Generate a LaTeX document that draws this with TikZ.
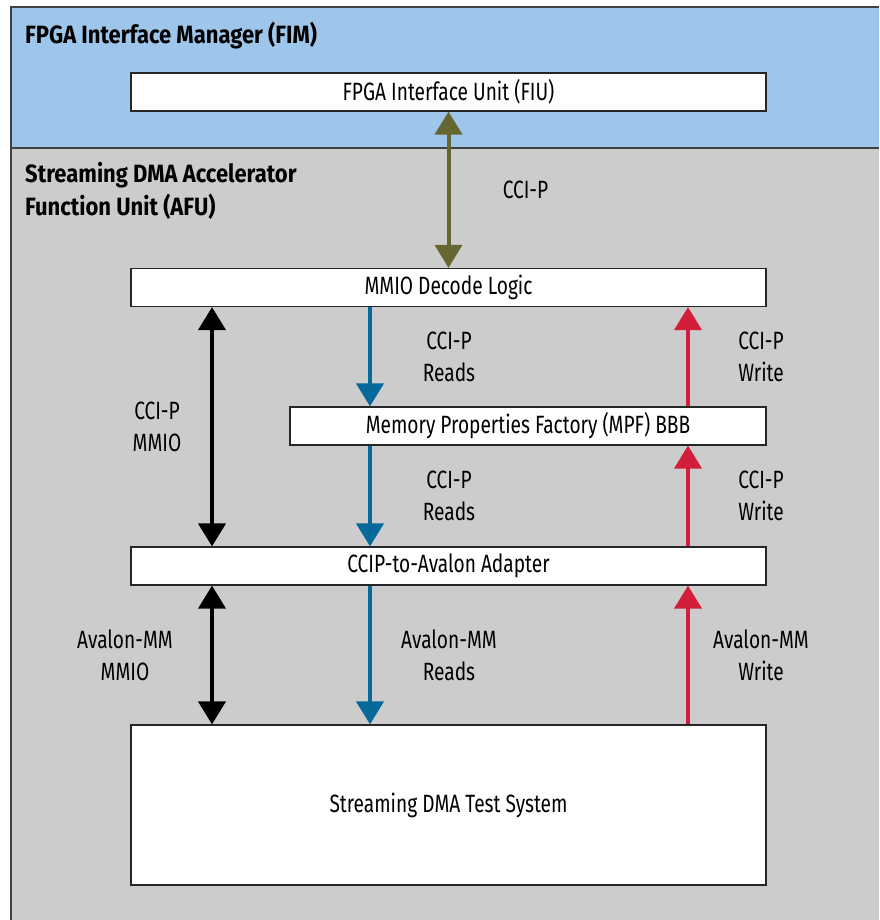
\documentclass[tikz,border=0pt]{standalone}
\usepackage{fontspec}
\setmainfont{Fira Sans}[FakeStretch=0.765]
\newfontfamily\headfont{Fira Sans}[FakeStretch=0.88]
\usetikzlibrary{arrows.meta}
\definecolor{fimblue}{RGB}{157,198,234}
\definecolor{afugray}{RGB}{204,204,204}
\definecolor{cciolive}{RGB}{102,102,51}
\definecolor{readblue}{RGB}{6,105,153}
\definecolor{writered}{RGB}{210,30,58}

\begin{document}
\begin{tikzpicture}[
    x=1pt, y=-1pt,
    font=\fontsize{25}{32}\selectfont,
    block/.style={draw=black!85, line width=1.2pt, fill=white, minimum width=635pt, minimum height=38pt, inner sep=0pt},
    head/.style={anchor=west, align=left, inner sep=0pt, font=\headfont\fontsize{25}{33}\selectfont\bfseries},
    lbl/.style={align=center},
    link/.style={line width=4pt, -{Triangle[width=27pt,length=23pt]}},
    both/.style={line width=4pt, {Triangle[width=27pt,length=23pt]}-{Triangle[width=27pt,length=23pt]}}
]

% Regions
\useasboundingbox (0,0) rectangle (879,920);
\fill[white] (0,0) rectangle (879,920);
\fill[fimblue] (11,7) rectangle (879,148);
\fill[afugray] (11,148) rectangle (879,920);
\draw[black!75, line width=1.2pt] (879,7) -- (11,7) -- (11,920);
\draw[black!75, line width=1.2pt] (11,148) -- (879,148);

\node[head] (fim) at (25,36) {FPGA Interface Manager (FIM)};
\node[head] (afu) at (25,191) {Streaming DMA Accelerator\\Function Unit (AFU)};

% Blocks
\node[block] (fiu) at (448.5,92) {FPGA Interface Unit (FIU)};
\node[block] (mmio) at (448.5,287.5) {MMIO Decode Logic};
\node[block, minimum width=476pt] (mpf) at (528,426) {Memory Properties Factory (MPF) BBB};
\node[block] (adapter) at (448.5,566) {CCIP-to-Avalon Adapter};
\node[block, minimum height=160pt] (dma) at (448.5,805) {Streaming DMA Test System};

% Columns
\coordinate (mmiocol) at (212,0);
\coordinate (rdcol) at (370,0);
\coordinate (wrcol) at (688,0);

% CCI-P
\draw[both, cciolive] (fiu.south) -- node[lbl, xshift=77pt, black] {CCI-P} (mmio.north);

% MMIO
\draw[both] (mmio.south -| mmiocol) -- node[lbl, xshift=-55pt] {CCI-P\\MMIO} (adapter.north -| mmiocol);
\draw[both] (adapter.south -| mmiocol) -- node[lbl, xshift=-87pt] {Avalon-MM\\MMIO} (dma.north -| mmiocol);

% Reads
\draw[link, readblue] (mmio.south -| rdcol) -- node[lbl, xshift=79pt, black] {CCI-P\\Reads} (mpf.north -| rdcol);
\draw[link, readblue] (mpf.south -| rdcol) -- node[lbl, xshift=79pt, black] {CCI-P\\Reads} (adapter.north -| rdcol);
\draw[link, readblue] (adapter.south -| rdcol) -- node[lbl, xshift=79pt, black] {Avalon-MM\\Reads} (dma.north -| rdcol);

% Writes
\draw[link, writered] (dma.north -| wrcol) -- node[lbl, xshift=73pt, black] {Avalon-MM\\Write} (adapter.south -| wrcol);
\draw[link, writered] (adapter.north -| wrcol) -- node[lbl, xshift=73pt, black] {CCI-P\\Write} (mpf.south -| wrcol);
\draw[link, writered] (mpf.north -| wrcol) -- node[lbl, xshift=73pt, black] {CCI-P\\Write} (mmio.south -| wrcol);

\end{tikzpicture}
\end{document}
